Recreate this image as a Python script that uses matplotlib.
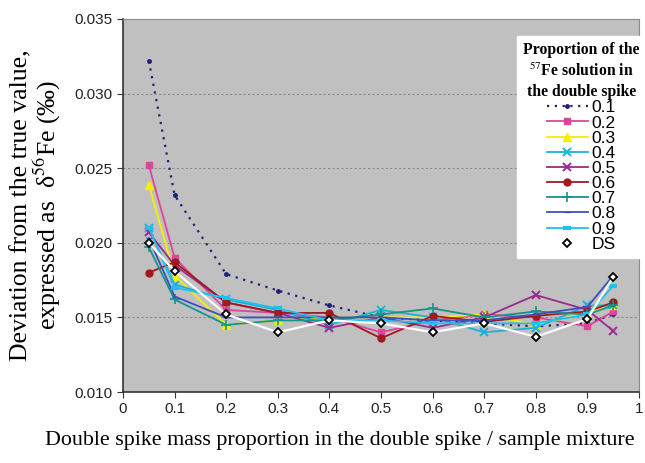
import matplotlib
matplotlib.use('Agg')
import matplotlib.pyplot as plt

plt.rcParams['mathtext.fontset'] = 'stix'

# x positions (double spike mass proportion)
x = [0.05, 0.1, 0.2, 0.3, 0.4, 0.5, 0.6, 0.7, 0.8, 0.9, 0.95]

# deviation values per 57Fe proportion
s01 = [0.0322, 0.0232, 0.0179, 0.0168, 0.0158, 0.0150, 0.0148, 0.0146, 0.0144, 0.0146, 0.0152]
s02 = [0.0252, 0.0190, 0.0155, 0.0153, 0.0150, 0.0140, 0.0148, 0.0152, 0.0150, 0.0144, 0.0154]
s03 = [0.0239, 0.0178, 0.0145, 0.0148, 0.0150, 0.0150, 0.0150, 0.0152, 0.0145, 0.0153, 0.0158]
s04 = [0.0210, 0.0172, 0.0162, 0.0155, 0.0145, 0.0155, 0.0150, 0.0140, 0.0143, 0.0158, 0.0158]
s05 = [0.0207, 0.0185, 0.0160, 0.0153, 0.0143, 0.0150, 0.0143, 0.0150, 0.0165, 0.0155, 0.0141]
s06 = [0.0180, 0.0187, 0.0160, 0.0153, 0.0153, 0.0136, 0.0151, 0.0147, 0.0151, 0.0154, 0.0160]
s07 = [0.0197, 0.0162, 0.0145, 0.0148, 0.0148, 0.0152, 0.0156, 0.0150, 0.0154, 0.0152, 0.0158]
s08 = [0.0203, 0.0164, 0.0150, 0.0150, 0.0150, 0.0150, 0.0148, 0.0148, 0.0152, 0.0157, 0.0178]
s09 = [0.0210, 0.0170, 0.0163, 0.0156, 0.0148, 0.0148, 0.0146, 0.0146, 0.0146, 0.0152, 0.0171]
ds = [0.0200, 0.0181, 0.0152, 0.0140, 0.0148, 0.0146, 0.0140, 0.0146, 0.0137, 0.0149, 0.0177]

labels = ['0.1', '0.2', '0.3', '0.4', '0.5', '0.6', '0.7', '0.8', '0.9', 'DS']
xticks = [0, 0.1, 0.2, 0.3, 0.4, 0.5, 0.6, 0.7, 0.8, 0.9, 1]
xticklabels = ['0', '0.1', '0.2', '0.3', '0.4', '0.5', '0.6', '0.7', '0.8', '0.9', '1']
yticks = [0.010, 0.015, 0.020, 0.025, 0.030, 0.035]

fig = plt.figure(figsize=(6.45, 4.63), dpi=100)
ax = fig.add_axes([123/645, 71/463, 516/645, 373/463])
ax.set_facecolor('#c0c0c0')

# the 0.1 series is dotted
ax.plot(x, s01, color='#1f1f7a', linestyle=(0, (1, 2.5)), linewidth=1.6,
        marker='o', markersize=2.5, label=labels[0])
ax.plot(x, s02, color='#e0449a', marker='s', markersize=5, linewidth=1.3, label=labels[1])
ax.plot(x, s03, color='#f5f000', marker='^', markersize=6, linewidth=1.3, label=labels[2])
ax.plot(x, s04, color='#1ab3d6', marker='x', markersize=5.5, mew=1.4, linewidth=1.3, label=labels[3])
ax.plot(x, s05, color='#9b2a8e', marker='x', markersize=5.5, mew=1.4, linewidth=1.3, label=labels[4])
ax.plot(x, s06, color='#a01a1e', marker='o', markersize=5, linewidth=1.3, label=labels[5])
ax.plot(x, s07, color='#12958a', marker='+', markersize=7, mew=1.2, linewidth=1.3, label=labels[6])
ax.plot(x, s08, color='#3f4fbf', marker='_', markersize=5, linewidth=1.3, label=labels[7])
ax.plot(x, s09, color='#1fc0f0', marker='_', markersize=6, mew=3, linewidth=1.3, label=labels[8])
ax.plot(x, ds, color='white', linewidth=1.6, marker='D', markersize=4.5,
        markerfacecolor='white', markeredgecolor='black', markeredgewidth=1.3)
# legend-only handle for DS (marker, no line)
ax.plot([], [], linestyle='none', marker='D', markersize=4.5, markerfacecolor='white',
        markeredgecolor='black', markeredgewidth=1.3, label=labels[9])

ax.set_xlim(0, 1)
ax.set_ylim(0.010, 0.035)
ax.set_xticks(xticks)
ax.set_xticklabels(xticklabels)
ax.set_yticks(yticks)
ax.set_yticklabels(['%.3f' % v for v in yticks])
ax.yaxis.grid(True, color='#8c8c8c', linestyle=(0, (2, 2)), linewidth=0.8)
ax.set_axisbelow(True)

for side in ['top', 'right']:
    ax.spines[side].set_color('#8a8a8a')
for side in ['left', 'bottom']:
    ax.spines[side].set_color('#333333')
    ax.spines[side].set_linewidth(1.2)
ax.tick_params(direction='out', length=4, colors='#333333',
               labelsize=11, labelcolor='#222222')
for lab in ax.get_xticklabels() + ax.get_yticklabels():
    lab.set_family('Liberation Sans')

# x label sits a little left of the axes centre in the original
fig.text(340/645, 1 - 440/463,
         'Double spike mass proportion in the double spike / sample mixture',
         family='Liberation Serif', fontsize=15.8, ha='center', va='center')
ax.set_ylabel('Deviation from the true value,\nexpressed as  δ$^{56}$Fe (‰)',
              family='Liberation Serif', fontsize=18.5, labelpad=8, linespacing=0.98)

leg = ax.legend(loc='upper left', bbox_to_anchor=(517/645, 1 - 36/463),
                bbox_transform=fig.transFigure, frameon=True, fancybox=False,
                edgecolor='white', facecolor='white', framealpha=1,
                prop={'family': 'Liberation Sans', 'size': 12.5},
                handlelength=2.4, handletextpad=0.2, labelspacing=0.0,
                borderpad=0.35, borderaxespad=0, alignment='center',
                title='Proportion of the\n$^{57}$Fe solution in\nthe double spike')
leg.get_title().set_fontfamily('Liberation Serif')
leg.get_title().set_fontweight('bold')
leg.get_title().set_fontsize(11.3)
leg.get_title().set_linespacing(1.35)
leg.get_title().set_multialignment('center')

fig.savefig('out.png', dpi=100)
